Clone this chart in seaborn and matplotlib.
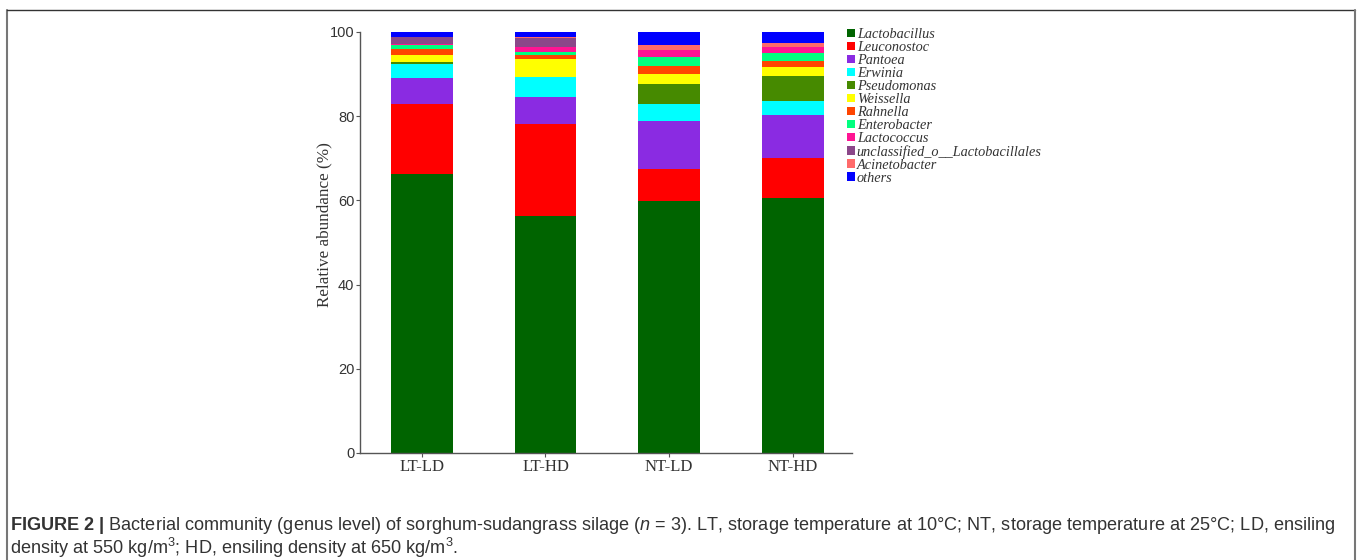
import numpy as np
import pandas as pd
import matplotlib.pyplot as plt
import seaborn as sns
from matplotlib.patches import Patch
from matplotlib.lines import Line2D

# groups and genera
groups = ["LT-LD", "LT-HD", "NT-LD", "NT-HD"]
genera = ["Lactobacillus", "Leuconostoc", "Pantoea", "Erwinia", "Pseudomonas",
          "Weissella", "Rahnella", "Enterobacter", "Lactococcus",
          "unclassified_o__Lactobacillales", "Acinetobacter", "others"]

# relative abundance (%) per group, same order as genera
lt_ld = [66.3, 16.5, 6.3, 3.4, 0.4, 1.6, 1.5, 0.8, 0.4, 1.5, 0.2, 1.1]
lt_hd = [56.4, 21.7, 6.5, 4.6, 0.1, 4.3, 1.0, 0.6, 1.3, 2.0, 0.2, 1.3]
nt_ld = [59.9, 7.6, 11.3, 4.0, 4.8, 2.4, 2.0, 2.1, 1.6, 0.0, 1.2, 3.1]
nt_hd = [60.5, 9.6, 10.1, 3.4, 5.9, 2.1, 1.4, 2.1, 1.3, 0.0, 1.1, 2.5]

colors = ["#006400", "#FF0000", "#8A2BE2", "#00FFFF", "#468A00", "#FFFF00",
          "#FF4500", "#00FF7F", "#FF1493", "#8B4789", "#FF6A6A", "#0000FF"]

df = pd.DataFrame({"LT-LD": lt_ld, "LT-HD": lt_hd, "NT-LD": nt_ld, "NT-HD": nt_hd},
                  index=genera)
cum = df.cumsum()

sns.set_style("white")
plt.rcParams["mathtext.fontset"] = "custom"
plt.rcParams["mathtext.rm"] = "Liberation Sans"
plt.rcParams["mathtext.it"] = "Liberation Sans:italic"
plt.rcParams["mathtext.bf"] = "Liberation Sans:bold"

fig = plt.figure(figsize=(13.57, 5.6), dpi=100)
ax = fig.add_axes([0.2653, 0.1911, 0.3626, 0.7518])

# draw cumulative bars from the top layer down so each one covers the next
for g, c in reversed(list(zip(genera, colors))):
    layer = pd.DataFrame({"group": groups, "value": cum.loc[g, groups].values})
    sns.barplot(data=layer, x="group", y="value", order=groups, color=c,
                width=0.5, saturation=1, edgecolor="none", linewidth=0, ax=ax)

ax.set_xlim(-0.5, 3.48)
ax.set_ylim(0, 100)
ax.set_yticks([0, 20, 40, 60, 80, 100])
ax.set_xlabel("")
ax.set_ylabel("Relative abundance (%)", family="Liberation Serif", fontsize=12.3,
              color="#333333")
ax.yaxis.set_label_coords(-0.056, 0.543)
for s in ["top", "right"]:
    ax.spines[s].set_visible(False)
for s in ["left", "bottom"]:
    ax.spines[s].set_color("#555555")
    ax.spines[s].set_linewidth(1.0)
ax.tick_params(axis="both", direction="out", length=3, width=0.8, color="#555555",
               left=True, bottom=True, pad=1)
for lab in ax.get_yticklabels():
    lab.set_family("Liberation Sans")
    lab.set_fontsize(10.5)
    lab.set_color("#333333")
for lab in ax.get_xticklabels():
    lab.set_family("Liberation Serif")
    lab.set_fontsize(12)
    lab.set_color("#333333")

# legend
handles = [Patch(facecolor=c, edgecolor="none") for c in colors]
fig.legend(handles, genera, loc="upper left", bbox_to_anchor=(0.619, 0.963),
           frameon=False, handlelength=0.55, handleheight=0.55, handletextpad=0.12,
           labelspacing=0.0, borderpad=0,
           prop={"family": "Liberation Serif", "style": "italic", "size": 10.3},
           labelcolor="#333333")

# frame around the figure panel
fig.add_artist(Line2D([7 / 1357, 7 / 1357], [0, 1 - 10 / 560], transform=fig.transFigure,
                      color="#777777", lw=1.5))
fig.add_artist(Line2D([7 / 1357, 1355 / 1357], [1 - 10 / 560, 1 - 10 / 560],
                      transform=fig.transFigure, color="#333333", lw=1.0))
fig.add_artist(Line2D([1355 / 1357, 1355 / 1357], [0, 1 - 10 / 560],
                      transform=fig.transFigure, color="#777777", lw=1.5))

# caption
fig.text(10 / 1357, 1 - 525 / 560,
         r"$\mathbf{FIGURE\ 2\ |}$ Bacterial community (genus level) of sorghum-sudangrass "
         r"silage ($\mathit{n}$ = 3). LT, storage temperature at 10°C; NT, storage "
         r"temperature at 25°C; LD, ensiling",
         fontsize=13.1, family="Liberation Sans", color="#333333", va="center")
fig.text(10 / 1357, 1 - 548 / 560,
         r"density at 550 kg/m$^3$; HD, ensiling density at 650 kg/m$^3$.",
         fontsize=13.1, family="Liberation Sans", color="#333333", va="center")

fig.savefig("out.png", dpi=100, facecolor="white")
